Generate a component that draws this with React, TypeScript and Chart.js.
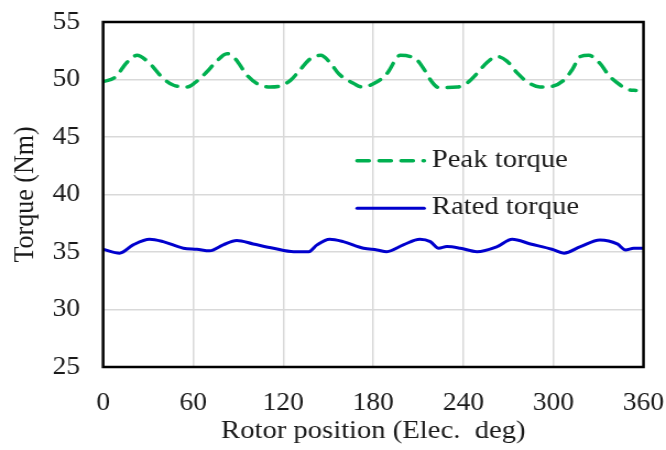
import React, { useEffect, useRef } from "react";
import { Chart, registerables } from "chart.js";

Chart.register(...registerables);

const xTicks = [0, 60, 120, 180, 240, 300, 360];
const yTicks = [25, 30, 35, 40, 45, 50, 55];

const peakAngles = [0, 8, 16, 22.5, 31, 40, 47, 56, 61, 69, 75, 82.5, 88, 96, 102.5, 111, 117, 125, 130, 138, 145, 151, 157, 167, 172.5, 182.5, 189, 198, 209, 213.5, 219, 223.5, 236, 242.5, 250, 255, 262.5, 269, 276, 282.5, 291, 299, 307, 312.5, 318, 323.5, 331, 337, 344.7, 350, 355];
const peakTorque = [49.8, 50.2, 51.5, 52.1, 51.4, 50.1, 49.5, 49.35, 49.7, 50.65, 51.5, 52.25, 51.8, 50.35, 49.65, 49.35, 49.4, 49.95, 50.65, 51.8, 52.1, 51.5, 50.5, 49.65, 49.35, 49.8, 50.5, 52.1, 51.7, 50.95, 49.8, 49.3, 49.35, 49.7, 50.65, 51.4, 52.0, 51.6, 50.55, 49.8, 49.35, 49.4, 49.95, 50.85, 52.0, 52.1, 51.4, 50.35, 49.5, 49.1, 49.05];

const ratedAngles = [0, 11, 20, 31, 40, 53.5, 62.5, 71, 80, 89, 100, 113.5, 127, 137, 142.5, 151, 160, 173.5, 182.5, 189, 200, 211, 218, 223.5, 229, 238, 249, 262.5, 272.5, 284.7, 299, 307, 318, 331, 342.5, 348, 353.5, 360];
const ratedTorque = [35.24, 34.9, 35.62, 36.11, 35.9, 35.33, 35.24, 35.1, 35.62, 36.0, 35.7, 35.33, 35.03, 35.03, 35.62, 36.11, 35.9, 35.33, 35.18, 35.03, 35.62, 36.11, 35.9, 35.33, 35.47, 35.33, 35.03, 35.47, 36.11, 35.7, 35.24, 34.9, 35.47, 36.05, 35.7, 35.18, 35.33, 35.33];

const seriesNames = ["Peak torque", "Rated torque"];
const xTitle = "Rotor position (Elec.  deg)";
const yTitle = "Torque (Nm)";

const FONT = "'Times New Roman', 'Liberation Serif', serif";
const GREEN = "#00B050";
const BLUE = "#0000CD";
const TEXT = "#1a1a1a";

const CSS_W = 666;
const CSS_H = 450;
const STRETCH = 1.1;
const W = Math.round(CSS_W / STRETCH);

// target plot frame in page pixels
const FRAME = { left: 103, right: 643, top: 22, bottom: 367 };

const boxAndLegend = {
  id: "boxAndLegend",
  afterDraw(chart: any) {
    const { ctx, chartArea } = chart;
    const { left, right, top, bottom } = chartArea;
    ctx.save();
    ctx.strokeStyle = "#000";
    ctx.lineWidth = 2.5;
    ctx.strokeRect(left, top, right - left, bottom - top);

    const w = right - left;
    const h = bottom - top;
    const lx = left + w * 0.47;
    const len = 61;
    const rows = [top + h * 0.4025, top + h * 0.54];
    const datasets = chart.data.datasets;
    rows.forEach((y: number, i: number) => {
      const ds = datasets[i];
      ctx.beginPath();
      ctx.strokeStyle = ds.borderColor;
      ctx.lineWidth = ds.borderWidth;
      ctx.lineCap = ds.borderCapStyle || "butt";
      ctx.setLineDash(ds.borderDash || []);
      ctx.moveTo(lx, y);
      ctx.lineTo(lx + len, y);
      ctx.stroke();
      ctx.setLineDash([]);
      ctx.fillStyle = TEXT;
      ctx.font = `26px ${FONT}`;
      ctx.textBaseline = "middle";
      ctx.textAlign = "left";
      ctx.fillText(ds.label, lx + 68, y - 1);
    });
    ctx.restore();
  },
};

export default function App() {
  const ref = useRef<HTMLCanvasElement | null>(null);

  useEffect(() => {
    if (!ref.current) return;
    const sizes = { yWidth: FRAME.left / STRETCH, xHeight: CSS_H - FRAME.bottom };
    const pad = { top: FRAME.top, right: W - FRAME.right / STRETCH, left: 0, bottom: 0 };
    const chart = new Chart(ref.current, {
      type: "line",
      data: {
        datasets: [
          {
            label: seriesNames[0],
            data: peakAngles.map((x, i) => ({ x, y: peakTorque[i] })),
            borderColor: GREEN,
            backgroundColor: GREEN,
            borderWidth: 3.5,
            borderDash: [11, 9],
            borderCapStyle: "round",
            pointRadius: 0,
            cubicInterpolationMode: "monotone",
            fill: false,
          },
          {
            label: seriesNames[1],
            data: ratedAngles.map((x, i) => ({ x, y: ratedTorque[i] })),
            borderColor: BLUE,
            backgroundColor: BLUE,
            borderWidth: 3,
            borderCapStyle: "round",
            pointRadius: 0,
            cubicInterpolationMode: "monotone",
            fill: false,
          },
        ],
      },
      options: {
        animation: false,
        responsive: false,
        devicePixelRatio: 1,
        layout: { padding: pad },
        plugins: {
          legend: { display: false },
          tooltip: { enabled: false },
        },
        scales: {
          x: {
            type: "linear",
            min: xTicks[0],
            max: xTicks[xTicks.length - 1],
            afterBuildTicks: (s: any) => {
              s.ticks = xTicks.map((v) => ({ value: v }));
            },
            afterFit: (s: any) => {
              s.height = sizes.xHeight;
              s.paddingLeft = 0;
              s.paddingRight = 0;
            },
            grid: { color: "#d9d9d9", lineWidth: 1.5, drawTicks: false },
            border: { display: false },
            ticks: {
              color: TEXT,
              font: { family: FONT, size: 25 },
              padding: 21,
              maxRotation: 0,
            },
            title: {
              display: true,
              text: xTitle,
              color: TEXT,
              font: { family: FONT, size: 26 },
              padding: { top: 0, bottom: 3 },
            },
          },
          y: {
            type: "linear",
            min: yTicks[0],
            max: yTicks[yTicks.length - 1],
            afterBuildTicks: (s: any) => {
              s.ticks = yTicks.map((v) => ({ value: v }));
            },
            afterFit: (s: any) => {
              s.width = sizes.yWidth;
              s.paddingTop = 0;
              s.paddingBottom = 0;
            },
            grid: { color: "#d9d9d9", lineWidth: 1.5, drawTicks: false },
            border: { display: false },
            ticks: {
              color: TEXT,
              font: { family: FONT, size: 25 },
              padding: 21,
            },
            title: {
              display: true,
              text: yTitle,
              color: TEXT,
              font: { family: FONT, size: 26 },
              padding: { top: 8, bottom: 0 },
            },
          },
        },
      },
      plugins: [boxAndLegend],
    } as any);

    // nudge layout so the plot frame lands on the reference frame
    for (let i = 0; i < 4; i++) {
      const ca = chart.chartArea;
      if (!ca) break;
      const dl = FRAME.left / STRETCH - ca.left;
      const dr = ca.right - FRAME.right / STRETCH;
      const dt = FRAME.top - ca.top;
      const db = FRAME.bottom - ca.bottom;
      if (Math.abs(dl) + Math.abs(dr) + Math.abs(dt) + Math.abs(db) < 0.5) break;
      sizes.yWidth += dl;
      pad.right = Math.max(0, pad.right + dr);
      pad.top = Math.max(0, pad.top + dt);
      sizes.xHeight -= db;
      (chart.options as any).layout.padding = { ...pad };
      chart.update();
    }
    return () => chart.destroy();
  }, []);

  return (
    <div style={{ position: "fixed", left: 0, top: 0, width: CSS_W, height: CSS_H, background: "#fff" }}>
      <canvas
        ref={ref}
        width={W}
        height={CSS_H}
        style={{ width: `${CSS_W}px`, height: `${CSS_H}px`, display: "block" }}
      />
    </div>
  );
}
